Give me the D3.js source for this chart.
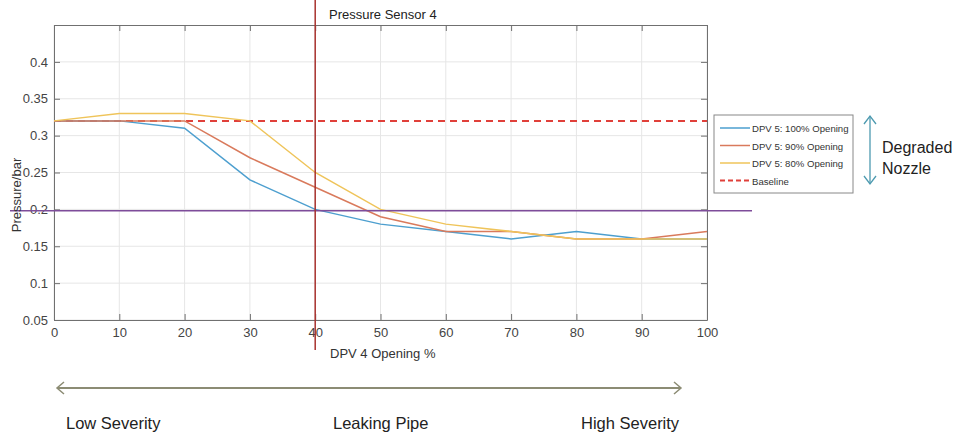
<!DOCTYPE html>
<html>
<head>
<meta charset="utf-8">
<script src="https://cdn.jsdelivr.net/npm/d3@7"></script>
<style>
body{margin:0;background:#fff;font-family:"Liberation Sans",Arial,sans-serif}
</style>
</head>
<body>
<svg id="svg1" width="962" height="439"></svg>
<script>
var opening = [0,10,20,30,40,50,60,70,80,90,100]
var dpv100 = [0.32,0.32,0.31,0.24,0.20,0.18,0.17,0.16,0.17,0.16,0.16]
var dpv90 = [0.32,0.32,0.32,0.27,0.23,0.19,0.17,0.17,0.16,0.16,0.17]
var dpv80 = [0.32,0.33,0.33,0.32,0.25,0.20,0.18,0.17,0.16,0.16,0.16]
var baseline = 0.32
var threshold = 0.198
var sensorAt = 40
var yTicks = [0.05,0.1,0.15,0.2,0.25,0.3,0.35,0.4]
var seriesNames = ["DPV 5: 100% Opening","DPV 5: 90% Opening","DPV 5: 80% Opening","Baseline"]
var seriesColors = ["#4d9fcf","#d97a5c","#efc45a","#e0403a"]

var svg = d3.select("#svg1")
var x = d3.scaleLinear().domain([0,100]).range([54,707])
var y = d3.scaleLinear().domain([0.05,0.45]).range([320,25])

// grid
svg.append("g").selectAll("line").data(opening).enter().append("line")
    .attr("x1",d=>x(d)).attr("x2",d=>x(d)).attr("y1",y(0.45)).attr("y2",y(0.05))
    .attr("stroke","#e6e6e6")
svg.append("g").selectAll("line").data(yTicks).enter().append("line")
    .attr("x1",x(0)).attr("x2",x(100)).attr("y1",d=>y(d)).attr("y2",d=>y(d))
    .attr("stroke","#e6e6e6")

// axes, MATLAB style box with inner ticks
var ax = svg.append("g").attr("transform","translate(0,"+y(0.05)+")")
    .call(d3.axisBottom(x).tickValues(opening).tickSizeInner(-6).tickSizeOuter(0).tickPadding(8))
var ay = svg.append("g").attr("transform","translate("+x(0)+",0)")
    .call(d3.axisLeft(y).tickValues(yTicks).tickFormat(d3.format("~g")).tickSizeInner(-6).tickSizeOuter(0).tickPadding(6))
var axt = svg.append("g").attr("transform","translate(0,"+y(0.45)+")")
    .call(d3.axisTop(x).tickValues(opening).tickSizeInner(-6).tickSizeOuter(0).tickFormat(""))
var ayr = svg.append("g").attr("transform","translate("+x(100)+",0)")
    .call(d3.axisRight(y).tickValues(yTicks).tickSizeInner(-6).tickSizeOuter(0).tickFormat(""))
;[ax,ay,axt,ayr].forEach(function(g){
    g.select(".domain").attr("stroke","#707070")
    g.selectAll(".tick line").attr("stroke","#707070")
    g.selectAll("text").attr("fill","#444").style("font-size","13px").style("font-family","Liberation Sans, Arial, sans-serif")
})

// baseline
svg.append("line").attr("x1",x(0)).attr("x2",x(100)).attr("y1",y(baseline)).attr("y2",y(baseline))
    .attr("stroke",seriesColors[3]).attr("stroke-width",2).attr("stroke-dasharray","7,5")

var line = d3.line().x((d,i)=>x(opening[i])).y(d=>y(d))
;[dpv100,dpv90,dpv80].forEach(function(s,k){
    svg.append("path").datum(s).attr("d",line).attr("fill","none")
        .attr("stroke",seriesColors[k]).attr("stroke-width",1.5)
})

// threshold and sensor markers
svg.append("line").attr("x1",10).attr("x2",752).attr("y1",y(threshold)).attr("y2",y(threshold))
    .attr("stroke","#7e4d9a").attr("stroke-width",1.5)
svg.append("line").attr("x1",x(sensorAt)).attr("x2",x(sensorAt)).attr("y1",0).attr("y2",350)
    .attr("stroke","#a8322e").attr("stroke-width",1.5)

// labels
svg.append("text").attr("x",329).attr("y",19).text("Pressure Sensor 4")
    .attr("font-size","13px").attr("fill","#222")
svg.append("text").attr("x",330).attr("y",358).text("DPV 4 Opening %")
    .attr("font-size","13px").attr("fill","#333")
svg.append("text").attr("transform","translate(21,195) rotate(-90)").attr("text-anchor","middle")
    .text("Pressure/bar").attr("font-size","13px").attr("fill","#333")

// legend
var lg = svg.append("g").attr("transform","translate(714,115)")
lg.append("rect").attr("width",139).attr("height",78).attr("fill","#fff").attr("stroke","#888")
seriesNames.forEach(function(n,i){
    var yy = 13+i*17.5
    lg.append("line").attr("x1",6).attr("x2",36).attr("y1",yy).attr("y2",yy)
        .attr("stroke",seriesColors[i]).attr("stroke-width",i==3?2:1.5)
        .attr("stroke-dasharray",i==3?"5,3":null)
    lg.append("text").attr("x",38).attr("y",yy+4).text(n).attr("font-size","9.6px").attr("fill","#333")
})

// degraded nozzle arrow
var teal = "#4d9ab0"
svg.append("line").attr("x1",870).attr("x2",870).attr("y1",116).attr("y2",184).attr("stroke",teal).attr("stroke-width",1.3)
svg.append("path").attr("d","M864,124 L870,116 L876,124 M864,176 L870,184 L876,176")
    .attr("fill","none").attr("stroke",teal).attr("stroke-width",1.3)
svg.append("text").attr("x",882).attr("y",153).text("Degraded").attr("font-size","16px").attr("fill","#222")
svg.append("text").attr("x",882).attr("y",174).text("Nozzle").attr("font-size","16px").attr("fill","#222")

// severity arrow
var olive = "#8c8c74"
svg.append("line").attr("x1",57).attr("x2",681).attr("y1",388).attr("y2",388).attr("stroke",olive).attr("stroke-width",2)
svg.append("path").attr("d","M64,382 L57,388 L64,394 M674,382 L681,388 L674,394")
    .attr("fill","none").attr("stroke",olive).attr("stroke-width",1.5)
svg.append("text").attr("x",66).attr("y",429).text("Low Severity").attr("font-size","16.5px").attr("fill","#222")
svg.append("text").attr("x",333).attr("y",429).text("Leaking Pipe").attr("font-size","16.5px").attr("fill","#222")
svg.append("text").attr("x",581).attr("y",429).text("High Severity").attr("font-size","16.5px").attr("fill","#222")
</script>
</body>
</html>
